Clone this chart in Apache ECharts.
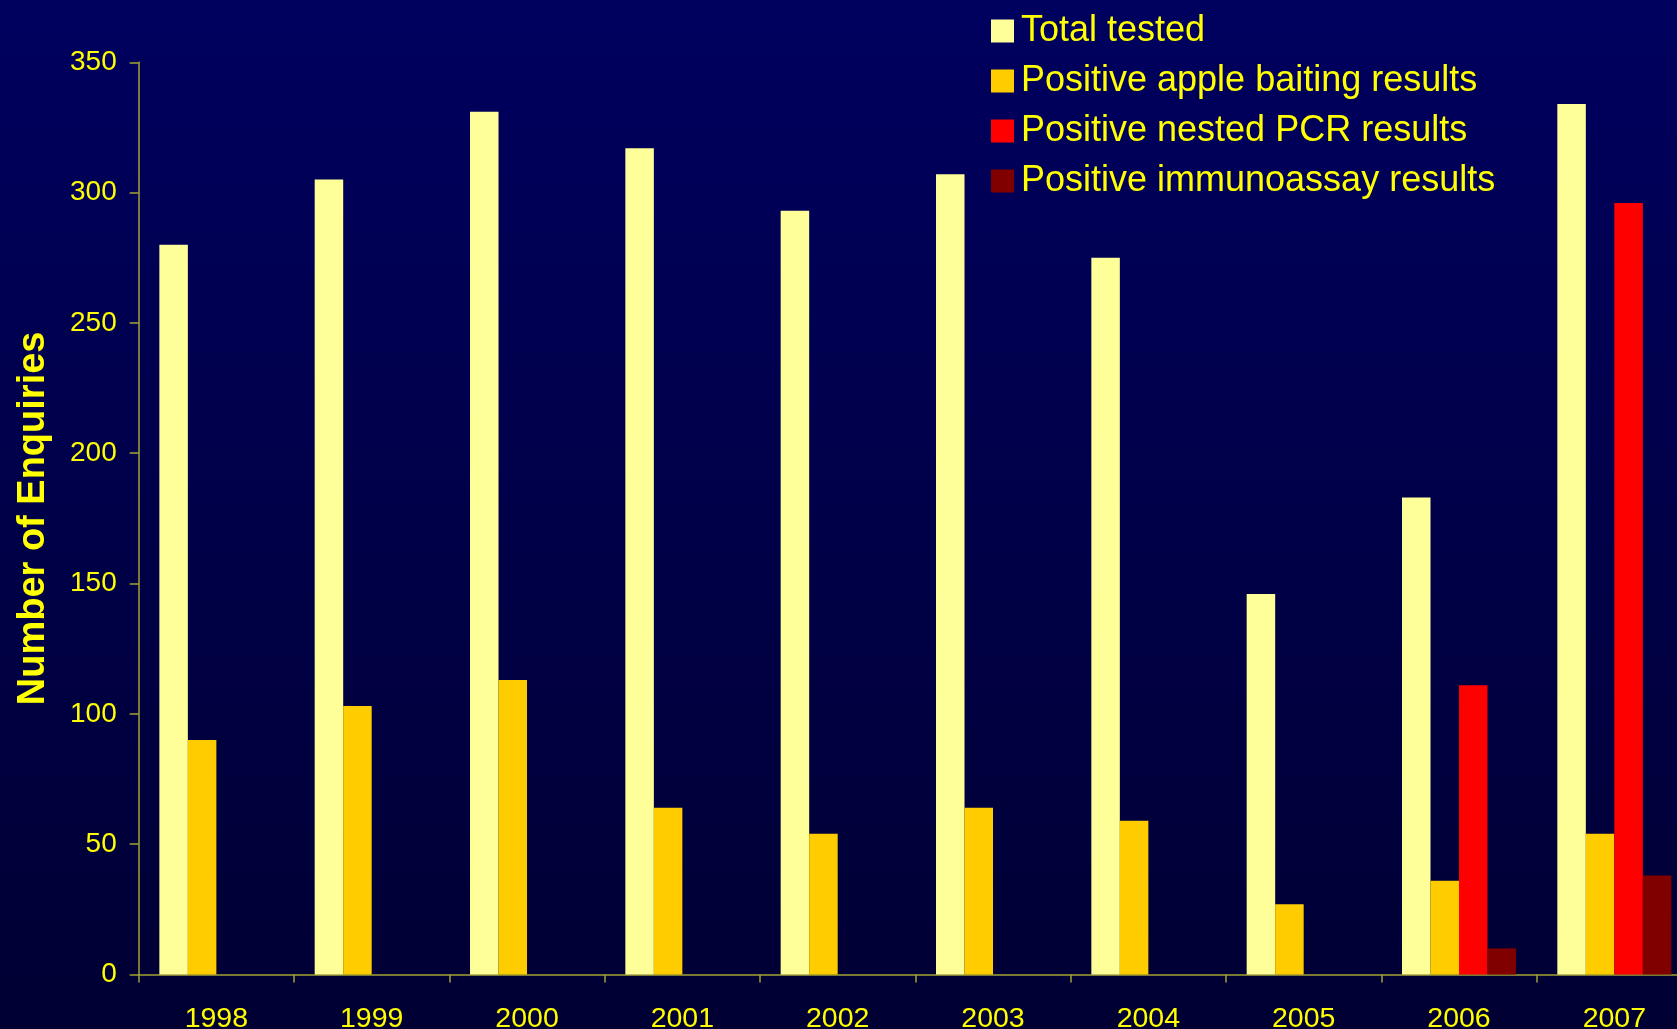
<!DOCTYPE html>
<html>
<head>
<meta charset="utf-8">
<script src="https://cdn.jsdelivr.net/npm/echarts@6/dist/echarts.min.js"></script>
<style>
html,body{margin:0;padding:0;width:1677px;height:1029px;overflow:hidden;}
#chart{width:1677px;height:1029px;}
</style>
</head>
<body>
<div id="chart"></div>
<script>
var years = ['1998','1999','2000','2001','2002','2003','2004','2005','2006','2007'];
var totalTested = [280, 305, 331, 317, 293, 307, 275, 146, 183, 334];
var appleBaiting = [90, 103, 113, 64, 54, 64, 59, 27, 36, 54];
var nestedPCR = [null, null, null, null, null, null, null, null, 111, 296];
var immunoassay = [null, null, null, null, null, null, null, null, 10, 38];
var yTicks = {min: 0, max: 350, interval: 50};

var FONT = '"Liberation Sans", Arial, sans-serif';
var YEL = '#FFFF00';
var AXIS = '#A3A333';

var chart = echarts.init(document.getElementById('chart'), null, {renderer: 'canvas'});
function bar(name, data, color) {
  return {
    name: name, type: 'bar', data: data,
    barGap: '0%', barCategoryGap: '26.6%',
    itemStyle: {color: color},
    emphasis: {disabled: true}
  };
}
chart.setOption({
  animation: false,
  backgroundColor: {
    type: 'linear', x: 0, y: 0, x2: 0, y2: 1,
    colorStops: [{offset: 0, color: '#00005F'}, {offset: 1, color: '#000033'}]
  },
  grid: {left: 138.7, right: -15, top: 62.3, bottom: 54.5, containLabel: false, outerBoundsMode: 'none'},
  legend: {
    orient: 'vertical', left: 986, top: 8,
    itemWidth: 23, itemHeight: 23, itemGap: 14,
    icon: 'rect',
    textStyle: {color: YEL, fontSize: 36, lineHeight: 36, fontFamily: FONT, padding: [0, 0, 0, 2]},
    data: ['Total tested', 'Positive apple baiting results', 'Positive nested PCR results', 'Positive immunoassay results']
  },
  xAxis: {
    type: 'category', data: years, boundaryGap: true,
    axisLine: {show: true, lineStyle: {color: AXIS, width: 1.5}},
    axisTick: {show: true, length: 8, lineStyle: {color: AXIS, width: 1.5}},
    axisLabel: {color: YEL, fontSize: 28.5, fontFamily: FONT, margin: 30, interval: 0},
    splitLine: {show: false}
  },
  yAxis: {
    type: 'value', min: yTicks.min, max: yTicks.max, interval: yTicks.interval,
    name: 'Number of Enquiries', nameLocation: 'middle', nameRotate: 90, nameGap: 86,
    nameTextStyle: {color: YEL, fontSize: 38, fontWeight: 'bold', fontFamily: FONT},
    axisLine: {show: true, lineStyle: {color: AXIS, width: 1.5}},
    axisTick: {show: true, length: 9, lineStyle: {color: AXIS, width: 1.5}},
    axisLabel: {color: YEL, fontSize: 28, fontFamily: FONT, margin: 22},
    splitLine: {show: false}
  },
  series: [
    bar('Total tested', totalTested, '#FFFF99'),
    bar('Positive apple baiting results', appleBaiting, '#FFCC00'),
    bar('Positive nested PCR results', nestedPCR, '#FF0000'),
    bar('Positive immunoassay results', immunoassay, '#800000')
  ]
});
</script>
</body>
</html>
